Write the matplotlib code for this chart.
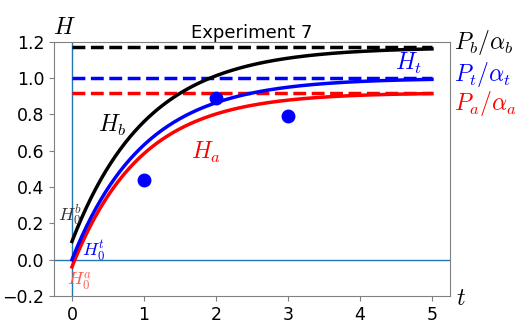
import numpy as np
import matplotlib
matplotlib.use("Agg")
import matplotlib.pyplot as plt

plt.rcParams['mathtext.fontset'] = 'cm'

# Steady states P/alpha, initial values H0 and rates for each compartment
names = ['a', 't', 'b']
colors = ['red', 'blue', 'black']
steady = [0.92, 1.00, 1.17]
h0 = [-0.04, 0.0, 0.10]
rates = [1.05, 1.0, 0.96]

# Measured points
t_obs = [1, 2, 3]
h_obs = [0.44, 0.89, 0.79]

t = np.linspace(0, 5, 300)

fig = plt.figure(figsize=(5.19, 3.27), dpi=100)
ax = fig.add_axes([0.104, 0.095, 0.763, 0.777])

ax.axhline(0, color='C0', lw=1)
ax.axvline(0, color='C0', lw=1)

for name, c, s, h, r in zip(names, colors, steady, h0, rates):
    ax.plot(t, s + (h - s) * np.exp(-r * t), color=c, lw=2.5)
    ax.plot([0, 5], [s, s], color=c, lw=2.5, ls='--')

ax.plot(t_obs, h_obs, 'o', color='blue', ms=9)

ax.set_xlim(-0.25, 5.25)
ax.set_ylim(-0.2, 1.2)
ax.set_xticks([0, 1, 2, 3, 4, 5])
ax.set_yticks([-0.2, 0.0, 0.2, 0.4, 0.6, 0.8, 1.0, 1.2])
ax.tick_params(labelsize=12.5, color='gray')
for sp in ax.spines.values():
    sp.set_color('gray')
ax.set_title('Experiment 7', fontsize=13, pad=3)

# curve labels
ax.text(0.56, 0.74, '$H_b$', color='black', fontsize=17, ha='center', va='center')
ax.text(1.86, 0.59, '$H_a$', color='red', fontsize=17, ha='center', va='center')
ax.text(4.67, 1.08, '$H_t$', color='blue', fontsize=17, ha='center', va='center')

# initial value labels
ax.text(-0.03, 0.25, '$H_0^b$', color='#333333', fontsize=13, ha='center', va='center')
ax.text(0.3, 0.05, '$H_0^t$', color='blue', fontsize=13, ha='center', va='center')
ax.text(0.1, -0.12, '$H_0^a$', color='#ff5a4a', fontsize=13, ha='center', va='center')

# steady state labels to the right of the axes
ax.text(5.3, 1.195, r'$P_b/\alpha_b$', color='black', fontsize=17, va='center', clip_on=False)
ax.text(5.3, 1.02, r'$P_t/\alpha_t$', color='blue', fontsize=17, va='center', clip_on=False)
ax.text(5.3, 0.86, r'$P_a/\alpha_a$', color='red', fontsize=17, va='center', clip_on=False)

ax.text(-0.11, 1.28, '$H$', fontsize=17, ha='center', va='center', clip_on=False)
ax.text(5.4, -0.21, '$t$', fontsize=17, ha='center', va='center', clip_on=False)

fig.savefig('out.png', dpi=100)
